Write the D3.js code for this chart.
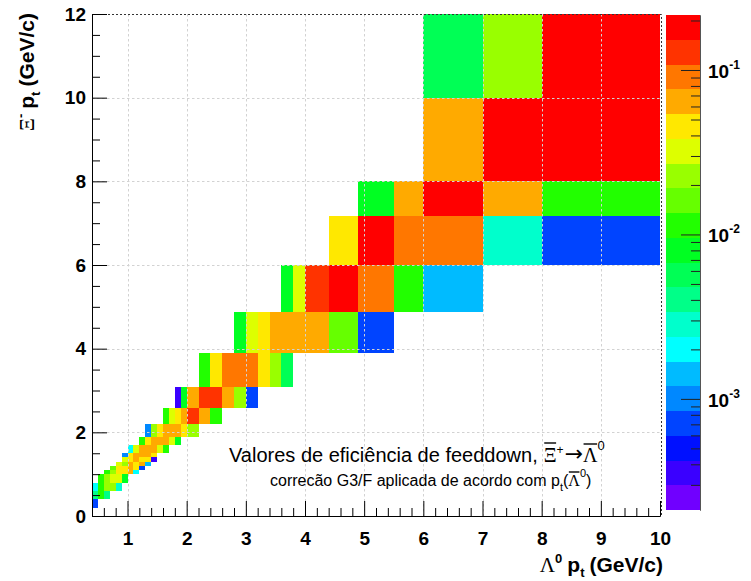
<!DOCTYPE html>
<html>
<head>
<meta charset="utf-8">
<script src="https://cdn.jsdelivr.net/npm/d3@7"></script>
<style>
body { margin: 0; background: #fff; }
svg { display: block; }
</style>
</head>
<body>
<div id="chart"></div>
<script>
// bin edges (GeV/c)
var xEdges = [0.4, 0.5, 0.6, 0.7, 0.8, 0.9, 1.0, 1.1, 1.2, 1.3, 1.4, 1.5, 1.6, 1.7, 1.8, 1.9, 2.0,
              2.2, 2.4, 2.6, 2.8, 3.0, 3.2, 3.4, 3.6, 3.8, 4.0, 4.4, 4.9, 5.5, 6, 7, 8, 10]
var yEdges = [0, 0.2, 0.4, 0.6, 0.8, 1.0, 1.1, 1.2, 1.3, 1.4, 1.5, 1.7, 1.9, 2.2, 2.57, 3.08,
              3.9, 4.88, 6, 7.18, 8, 10, 12]

// for every y bin: first filled x bin, then the efficiency values
var rowStart = [0, 0, 0, 0, 1, 2, 3, 4, 5, 5, 6, 8, 9, 12, 14, 17, 20, 24, 27, 28, 30, 30]
var rowValues = [
    [],
    [0.0007],
    [0.004, 0.011, 0.0041],
    [0.002, 0.0115, 0.022, 0.024, 0.0028],
    [0.012, 0.021, 0.031, 0.033, 0.0079],
    [0.0112, 0.023, 0.044, 0.047, 0.064, 0.0021],
    [0.016, 0.046, 0.043, 0.066, 0.045, 0.0007],
    [0.032, 0.022, 0.062, 0.044, 0.067, 0.0014],
    [0.031, 0.046, 0.063, 0.044, 0.047, 0.00036],
    [0.001, 0.045, 0.066, 0.068, 0.064, 0.046],
    [0.002, 0.033, 0.065, 0.07, 0.063, 0.031, 0.011],
    [0.0115, 0.044, 0.067, 0.064, 0.069, 0.032, 0.0082],
    [0.001, 0.023, 0.046, 0.068, 0.066, 0.063, 0.044, 0.024],
    [0.011, 0.032, 0.045, 0.066, 0.13, 0.064, 0.0112],
    [0.00036, 0.0078, 0.065, 0.13, 0.125, 0.066, 0.023, 0.0007],
    [0.0113, 0.046, 0.09, 0.092, 0.088, 0.044, 0.022, 0.0057],
    [0.008, 0.032, 0.046, 0.066, 0.064, 0.068, 0.065, 0.016, 0.0007],
    [0.0081, 0.031, 0.13, 0.18, 0.09, 0.0112, 0.0014],
    [0.045, 0.17, 0.091, 0.089, 0.0028, 0.00072],
    [0.008, 0.065, 0.19, 0.066, 0.011],
    [0.066, 0.18, 0.2],
    [0.0057, 0.023, 0.19]
]

var zRange = [0.000211, 0.216]
var paletteColors = ["#7000ff", "#3a00ff", "#0010ff", "#0044ff", "#0088ff", "#00bbff", "#00ffff",
                     "#00ffcc", "#00ff88", "#00ff55", "#00ff22", "#22ff00", "#66ff00", "#99ff00",
                     "#ddff00", "#ffe800", "#ffaa00", "#ff7700", "#ff3300", "#ff0000"]

var xTickValues = [1, 2, 3, 4, 5, 6, 7, 8, 9, 10]
var yTickValues = [0, 2, 4, 6, 8, 10, 12]
var zTickValues = [0.1, 0.01, 0.001]
var zTickExp = ["-1", "-2", "-3"]

var sans = "'Liberation Sans', Arial, Helvetica, sans-serif"
var serif = "'Liberation Serif', 'Times New Roman', serif"

var W = 751, H = 581
var margin = { top: 14, right: 91, bottom: 65, left: 92 }
var innerW = W - margin.left - margin.right
var innerH = H - margin.top - margin.bottom

var svg = d3.select("#chart").append("svg")
    .attr("width", W)
    .attr("height", H)

var plot = svg.append("g")
    .attr("transform", "translate(" + margin.left + "," + margin.top + ")")

var xScale = d3.scaleLinear().domain([0.4, 10]).range([0, innerW])
var yScale = d3.scaleLinear().domain([0, 12]).range([innerH, 0])
var colorScale = d3.scaleQuantize()
    .domain([Math.log10(zRange[0]), Math.log10(zRange[1])])
    .range(paletteColors)

// cells
var cells = []
rowValues.forEach(function(vals, iy) {
    vals.forEach(function(v, j) {
        cells.push({ ix: rowStart[iy] + j, iy: iy, v: v })
    })
})

plot.append("g")
    .selectAll("rect")
    .data(cells)
    .join("rect")
    .attr("x", d => xScale(xEdges[d.ix]))
    .attr("width", d => xScale(xEdges[d.ix + 1]) - xScale(xEdges[d.ix]))
    .attr("y", d => yScale(yEdges[d.iy + 1]))
    .attr("height", d => yScale(yEdges[d.iy]) - yScale(yEdges[d.iy + 1]))
    .attr("fill", d => colorScale(Math.log10(d.v)))
    .attr("shape-rendering", "crispEdges")

// grid
var grid = plot.append("g")
    .attr("stroke", "#d2d2d2")
    .attr("stroke-dasharray", "2.5,2.5")
    .attr("stroke-width", 1)
grid.selectAll(".gx")
    .data(xTickValues.filter(d => d < 10))
    .join("line")
    .attr("x1", d => Math.round(xScale(d)) + 0.5)
    .attr("x2", d => Math.round(xScale(d)) + 0.5)
    .attr("y1", 0).attr("y2", innerH)
grid.selectAll(".gy")
    .data(yTickValues.filter(d => d > 0 && d < 12))
    .join("line")
    .attr("y1", d => Math.round(yScale(d)) + 0.5)
    .attr("y2", d => Math.round(yScale(d)) + 0.5)
    .attr("x1", 0).attr("x2", innerW)

// frame (top / right)
plot.append("path")
    .attr("d", "M0,0.5H" + (innerW + 1.5) + "V" + innerH)
    .attr("fill", "none")
    .attr("stroke", "#333")
    .attr("stroke-dasharray", "2,2")

// axes
var xMinor = d3.range(0.6, 10, 0.2).filter(d => Math.abs(d - Math.round(d)) > 0.01)
var yMinor = d3.range(0.5, 12, 0.5).filter(d => d % 2 != 0)

plot.append("g")
    .attr("transform", "translate(0," + innerH + ")")
    .call(d3.axisBottom(xScale).tickValues(xMinor).tickSize(-8).tickSizeOuter(0).tickFormat(""))
plot.append("g")
    .attr("class", "xaxis")
    .attr("transform", "translate(0," + innerH + ")")
    .call(d3.axisBottom(xScale).tickValues(xTickValues).tickSize(-15).tickSizeOuter(0).tickPadding(16))

plot.append("g")
    .call(d3.axisLeft(yScale).tickValues(yMinor).tickSize(-8).tickSizeOuter(0).tickFormat(""))
plot.append("g")
    .attr("class", "yaxis")
    .call(d3.axisLeft(yScale).tickValues(yTickValues).tickSize(-15).tickSizeOuter(0).tickPadding(6))

plot.selectAll(".xaxis text, .yaxis text")
    .attr("font-family", sans)
    .attr("font-size", 19)
    .attr("font-weight", "bold")
    .attr("fill", "#000")
plot.selectAll(".domain").attr("stroke", "#000")
plot.selectAll(".tick line").attr("stroke", "#000")

// colour bar
var zScale = d3.scaleLog().domain(zRange).range([510, 15])
var lz0 = Math.log10(zRange[0]), lzStep = (Math.log10(zRange[1]) - lz0) / paletteColors.length
svg.append("g")
    .selectAll("rect")
    .data(paletteColors)
    .join("rect")
    .attr("x", 666)
    .attr("width", 34)
    .attr("y", (c, i) => zScale(Math.pow(10, lz0 + (i + 1) * lzStep)))
    .attr("height", (c, i) => zScale(Math.pow(10, lz0 + i * lzStep)) - zScale(Math.pow(10, lz0 + (i + 1) * lzStep)))
    .attr("fill", c => c)
    .attr("shape-rendering", "crispEdges")

var zMinor = []
;[0.0001, 0.001, 0.01, 0.1].forEach(function(dec) {
    for (var m = 2; m <= 9; m++) {
        var v = dec * m
        if (v > zRange[0] && v < zRange[1]) zMinor.push(v)
    }
})
var zAxisG = svg.append("g").attr("transform", "translate(700,0)")
zAxisG.append("g")
    .call(d3.axisLeft(zScale).tickValues(zMinor).tickSize(9).tickSizeOuter(0).tickFormat(""))
zAxisG.append("g")
    .call(d3.axisLeft(zScale).tickValues(zTickValues).tickSize(19).tickSizeOuter(0).tickFormat(""))
zAxisG.selectAll(".domain").attr("stroke", "#555")
zAxisG.selectAll(".tick line").attr("stroke", "#222")

// rich text helper: parts laid out one after the other
function richText(parent, parts, x, y, anchor) {
    var g = parent.append("g")
    var cx = 0
    parts.forEach(function(p) {
        var t = g.append("text")
            .attr("x", cx)
            .attr("y", p.dy || 0)
            .attr("font-family", p.font || (p.serif ? serif : sans))
            .attr("font-size", p.size)
            .attr("font-weight", p.bold ? "bold" : "normal")
            .attr("fill", "#000")
            .style("white-space", "pre")
            .text(p.t)
        var w = t.node().getComputedTextLength()
        if (p.bar != null) {
            g.append("line")
                .attr("x1", cx + 0.5).attr("x2", cx + w - 0.5)
                .attr("y1", p.bar).attr("y2", p.bar)
                .attr("stroke", "#000").attr("stroke-width", 1.4)
        }
        cx += w + (p.gap || 0)
    })
    var shift = anchor === "end" ? -cx : 0
    g.attr("transform", "translate(" + (x + shift) + "," + y + ")")
    return g
}

zTickValues.forEach(function(v, i) {
    richText(svg, [
        { t: "10", size: 19, bold: true },
        { t: zTickExp[i], size: 12, bold: true, dy: -9 }
    ], 708, zScale(v) + 8, "start")
})

// axis titles
richText(svg, [
    { t: "\u039B", size: 21, serif: true },
    { t: "0", size: 13, bold: true, dy: -9, gap: 5 },
    { t: "p", size: 21, bold: true },
    { t: "t", size: 13, bold: true, dy: 5, gap: 5 },
    { t: "(GeV/c)", size: 21, bold: true }
], 663, 572, "end")

var yTitle = svg.append("g").attr("transform", "translate(34,13) rotate(-90)")
richText(yTitle, [
    { t: "\u039E", size: 20, serif: true },
    { t: "-", size: 13, bold: true, dy: -9, gap: 5 },
    { t: "p", size: 21, bold: true },
    { t: "t", size: 13, bold: true, dy: 6, gap: 5 },
    { t: "(GeV/c)", size: 21, bold: true }
], 0, 0, "end")

// annotation
richText(svg, [
    { t: "Valores de efici\u00EAncia de feeddown,", size: 20, gap: 6 },
    { t: "\u039E", size: 20, serif: true, bar: -19 },
    { t: "+", size: 12, dy: -8, gap: 1 },
    { t: "\u2192", size: 22, dy: -1, font: "'DejaVu Sans', sans-serif" },
    { t: "\u039B", size: 20, serif: true, bar: -18 },
    { t: "0", size: 13, dy: -12 }
], 229, 462, "start")

richText(svg, [
    { t: "correc\u00E3o G3/F aplicada de acordo com p", size: 16 },
    { t: "t", size: 11, dy: 5 },
    { t: "(", size: 16 },
    { t: "\u039B", size: 16, serif: true, bar: -14 },
    { t: "0", size: 11, dy: -9 },
    { t: ")", size: 16 }
], 270, 486, "start")
</script>
</body>
</html>
